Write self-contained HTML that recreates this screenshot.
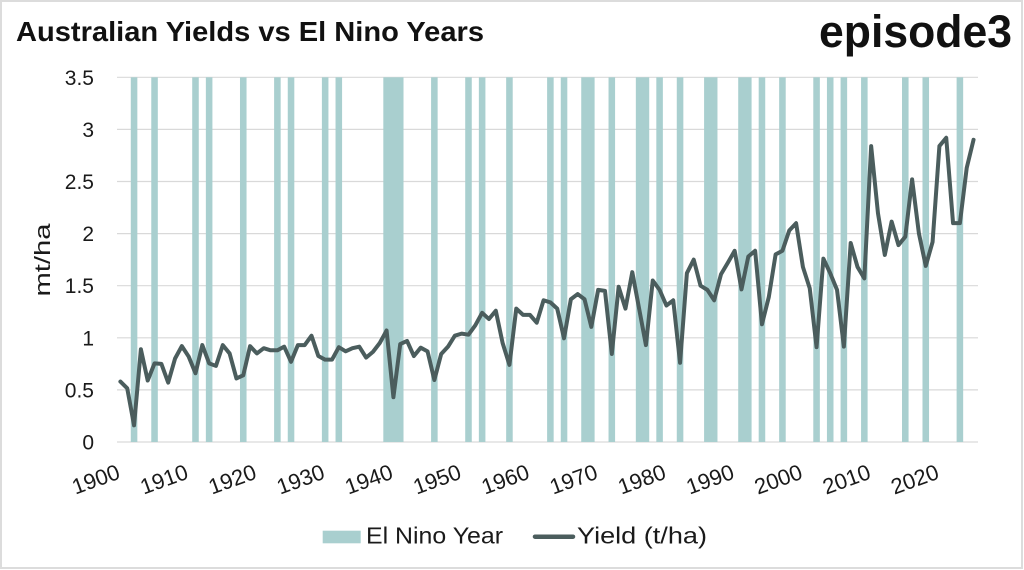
<!DOCTYPE html>
<html>
<head>
<meta charset="utf-8">
<style>
  html,body{margin:0;padding:0;background:#fff;}
  svg{display:block;}
  text{font-family:"Liberation Sans","DejaVu Sans",sans-serif;}
</style>
</head>
<body>
<svg width="1024" height="570" viewBox="0 0 1024 570" xmlns="http://www.w3.org/2000/svg">
  <rect x="1" y="1" width="1021" height="567" fill="#ffffff" stroke="#dcdcdc" stroke-width="2"/>

  <!-- Title -->
  <text x="16" y="41" font-size="28" font-weight="bold" fill="#111" textLength="468" lengthAdjust="spacingAndGlyphs">Australian Yields vs El Nino Years</text>
  <!-- Logo -->
  <text x="819" y="47" font-size="45" font-weight="bold" fill="#111" textLength="193" lengthAdjust="spacingAndGlyphs">episode3</text>

  <!-- Gridlines -->
  <g stroke="#d9d9d9" stroke-width="1.2">
    <line x1="117" y1="77.3" x2="978" y2="77.3"/>
    <line x1="117" y1="129.4" x2="978" y2="129.4"/>
    <line x1="117" y1="181.5" x2="978" y2="181.5"/>
    <line x1="117" y1="233.6" x2="978" y2="233.6"/>
    <line x1="117" y1="285.7" x2="978" y2="285.7"/>
    <line x1="117" y1="337.8" x2="978" y2="337.8"/>
    <line x1="117" y1="389.9" x2="978" y2="389.9"/>
    <line x1="117" y1="442" x2="978" y2="442"/>
  </g>

  <!-- El Nino bars -->
  <g transform="translate(117,442) scale(6.825,-104.2)" fill="#a9cfcf">
    <rect x="2.02" y="0" width="0.96" height="3.5"/>
    <rect x="5.02" y="0" width="0.96" height="3.5"/>
    <rect x="11.02" y="0" width="0.96" height="3.5"/>
    <rect x="13.02" y="0" width="0.96" height="3.5"/>
    <rect x="18.02" y="0" width="0.96" height="3.5"/>
    <rect x="23.02" y="0" width="0.96" height="3.5"/>
    <rect x="25.02" y="0" width="0.96" height="3.5"/>
    <rect x="30.02" y="0" width="0.96" height="3.5"/>
    <rect x="32.02" y="0" width="0.96" height="3.5"/>
    <rect x="39.02" y="0" width="2.96" height="3.5"/>
    <rect x="46.02" y="0" width="0.96" height="3.5"/>
    <rect x="51.02" y="0" width="0.96" height="3.5"/>
    <rect x="53.02" y="0" width="0.96" height="3.5"/>
    <rect x="57.02" y="0" width="0.96" height="3.5"/>
    <rect x="63.02" y="0" width="0.96" height="3.5"/>
    <rect x="65.02" y="0" width="0.96" height="3.5"/>
    <rect x="68.02" y="0" width="1.96" height="3.5"/>
    <rect x="72.02" y="0" width="0.96" height="3.5"/>
    <rect x="76.02" y="0" width="1.96" height="3.5"/>
    <rect x="79.02" y="0" width="0.96" height="3.5"/>
    <rect x="82.02" y="0" width="0.96" height="3.5"/>
    <rect x="86.02" y="0" width="1.96" height="3.5"/>
    <rect x="91.02" y="0" width="1.96" height="3.5"/>
    <rect x="94.02" y="0" width="0.96" height="3.5"/>
    <rect x="97.02" y="0" width="0.96" height="3.5"/>
    <rect x="102.02" y="0" width="0.96" height="3.5"/>
    <rect x="104.02" y="0" width="0.96" height="3.5"/>
    <rect x="106.02" y="0" width="0.96" height="3.5"/>
    <rect x="109.02" y="0" width="0.96" height="3.5"/>
    <rect x="115.02" y="0" width="0.96" height="3.5"/>
    <rect x="118.02" y="0" width="0.96" height="3.5"/>
    <rect x="123.02" y="0" width="0.96" height="3.5"/>
  </g>

  <!-- Yield line -->
  <g transform="translate(120.41,442) scale(6.825,-104.2)">
    <polyline fill="none" stroke="#4b5d5d" stroke-width="4" stroke-linejoin="round" stroke-linecap="round" vector-effect="non-scaling-stroke"
      points="0,0.58 1,0.515 2,0.16 3,0.89 4,0.59 5,0.755 6,0.75 7,0.57 8,0.80 9,0.92
      10,0.82 11,0.66 12,0.93 13,0.755 14,0.73 15,0.93 16,0.85 17,0.61 18,0.64 19,0.92
      20,0.85 21,0.90 22,0.88 23,0.88 24,0.915 25,0.77 26,0.93 27,0.93 28,1.02 29,0.825
      30,0.79 31,0.79 32,0.91 33,0.87 34,0.90 35,0.915 36,0.81 37,0.865 38,0.95 39,1.07
      40,0.43 41,0.94 42,0.97 43,0.825 44,0.905 45,0.87 46,0.595 47,0.845 48,0.915 49,1.02
      50,1.04 51,1.03 52,1.12 53,1.24 54,1.18 55,1.26 56,0.95 57,0.74 58,1.28 59,1.22
      60,1.22 61,1.145 62,1.36 63,1.34 64,1.28 65,0.995 66,1.37 67,1.42 68,1.37 69,1.105
      70,1.46 71,1.45 72,0.845 73,1.49 74,1.28 75,1.63 76,1.28 77,0.93 78,1.55 79,1.46
      80,1.31 81,1.36 82,0.76 83,1.62 84,1.75 85,1.50 86,1.46 87,1.36 88,1.61 89,1.72
      90,1.835 91,1.465 92,1.78 93,1.835 94,1.13 95,1.39 96,1.80 97,1.835 98,2.03 99,2.10
      100,1.68 101,1.475 102,0.91 103,1.76 104,1.62 105,1.46 106,0.915 107,1.91 108,1.68 109,1.57
      110,2.84 111,2.195 112,1.795 113,2.115 114,1.89 115,1.97 116,2.52 117,2.00 118,1.69 119,1.92
      120,2.84 121,2.92 122,2.10 123,2.10 124,2.63 125,2.90"/>
  </g>

  <!-- Y tick labels -->
  <g font-size="21" fill="#1a1a1a" text-anchor="end">
    <text x="94" y="84.8">3.5</text>
    <text x="94" y="136.9">3</text>
    <text x="94" y="189">2.5</text>
    <text x="94" y="241.1">2</text>
    <text x="94" y="293.2">1.5</text>
    <text x="94" y="345.3">1</text>
    <text x="94" y="397.4">0.5</text>
    <text x="94" y="449.5">0</text>
  </g>

  <!-- Y axis title -->
  <text transform="translate(50,260) rotate(-90)" x="0" y="0" font-size="22" fill="#1a1a1a" text-anchor="middle" textLength="73" lengthAdjust="spacingAndGlyphs">mt/ha</text>

  <!-- X tick labels -->
  <g font-size="22" fill="#1a1a1a" text-anchor="end">
    <text x="121.4" y="478" transform="rotate(-20 121.4 478)">1900</text>
    <text x="189.7" y="478" transform="rotate(-20 189.7 478)">1910</text>
    <text x="257.9" y="478" transform="rotate(-20 257.9 478)">1920</text>
    <text x="326.2" y="478" transform="rotate(-20 326.2 478)">1930</text>
    <text x="394.4" y="478" transform="rotate(-20 394.4 478)">1940</text>
    <text x="462.7" y="478" transform="rotate(-20 462.7 478)">1950</text>
    <text x="530.9" y="478" transform="rotate(-20 530.9 478)">1960</text>
    <text x="599.2" y="478" transform="rotate(-20 599.2 478)">1970</text>
    <text x="667.4" y="478" transform="rotate(-20 667.4 478)">1980</text>
    <text x="735.7" y="478" transform="rotate(-20 735.7 478)">1990</text>
    <text x="803.9" y="478" transform="rotate(-20 803.9 478)">2000</text>
    <text x="872.2" y="478" transform="rotate(-20 872.2 478)">2010</text>
    <text x="940.4" y="478" transform="rotate(-20 940.4 478)">2020</text>
  </g>

  <!-- Legend -->
  <rect x="322.7" y="530.7" width="38" height="12.6" fill="#a9cfcf"/>
  <text x="366" y="543.3" font-size="23" fill="#1a1a1a" textLength="137" lengthAdjust="spacingAndGlyphs">El Nino Year</text>
  <line x1="535" y1="536.7" x2="573" y2="536.7" stroke="#4b5d5d" stroke-width="4.5" stroke-linecap="round"/>
  <text x="577" y="543.3" font-size="23" fill="#1a1a1a" textLength="130" lengthAdjust="spacingAndGlyphs">Yield (t/ha)</text>
</svg>
</body>
</html>
